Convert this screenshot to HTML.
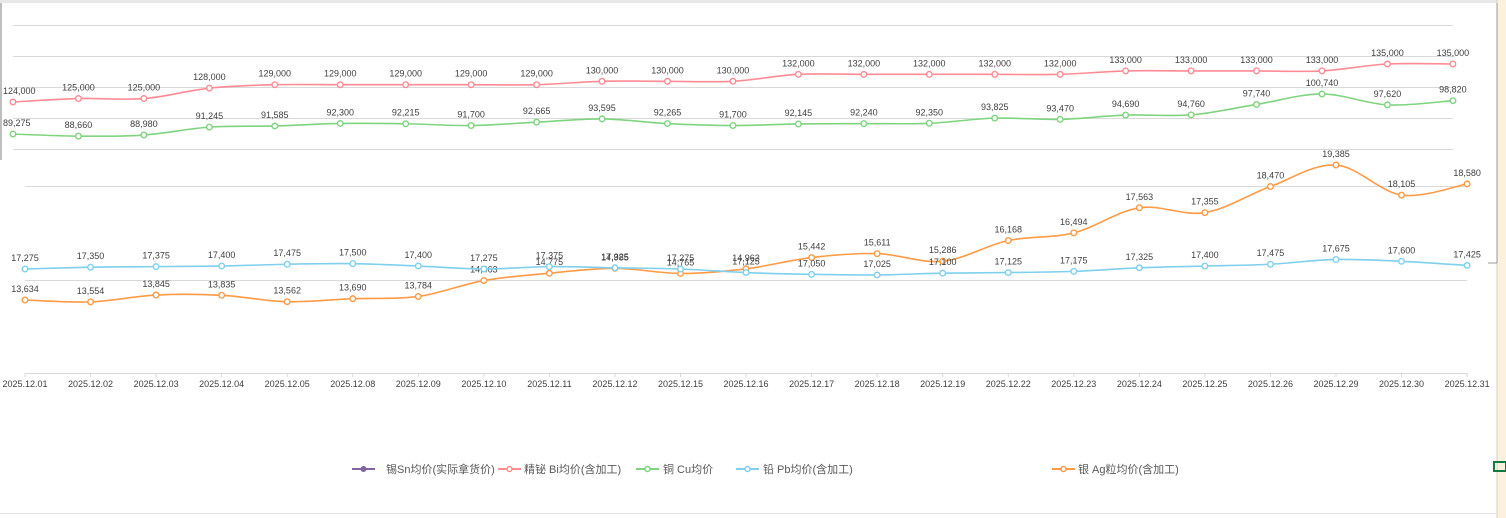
<!DOCTYPE html>
<html><head><meta charset="utf-8"><style>
body{margin:0;width:1506px;height:518px;overflow:hidden;background:#fff;font-family:"Liberation Sans","Noto Sans CJK SC",sans-serif}
svg{position:absolute;left:0;top:0}
</style></head><body>
<svg id="s" width="1506" height="518" xmlns="http://www.w3.org/2000/svg">
<rect x="0" y="0" width="1506" height="3" fill="#e8e8e8"/>
<rect x="1497" y="0" width="9" height="518" fill="#fbf1dc"/>
<line x1="1497" y1="0" x2="1497" y2="518" stroke="#d8d0c0"/>
<rect x="1494" y="462" width="12" height="9" fill="none" stroke="#107c41" stroke-width="2"/>
<line x1="1" y1="3" x2="1" y2="160" stroke="#aaa" stroke-width="1.5"/>
<line x1="1497" y1="3" x2="1497" y2="263" stroke="#999"/>
<line x1="1488" y1="263" x2="1497" y2="263" stroke="#999"/>
<line x1="0" y1="513.5" x2="1497" y2="513.5" stroke="#e6e6e6"/>
<g stroke="#d9d9d9" stroke-width="1">
<line x1="13" y1="25.5" x2="1453" y2="25.5"/><line x1="13" y1="56.5" x2="1453" y2="56.5"/>
<line x1="13" y1="87.5" x2="1453" y2="87.5"/><line x1="13" y1="118.5" x2="1453" y2="118.5"/>
<line x1="13" y1="149.5" x2="1453" y2="149.5"/>
<line x1="25" y1="186.5" x2="1467" y2="186.5"/><line x1="25" y1="280.5" x2="1467" y2="280.5"/>
<line x1="25" y1="373.5" x2="1467" y2="373.5"/>
</g>
<g id="g"></g>
<g font-size="11" fill="#595959">
<line x1="352" y1="469" x2="375" y2="469" stroke="#8064a2" stroke-width="2"/><circle cx="363.5" cy="469" r="3" fill="#8064a2"/>
<text x="386" y="473">锡Sn均价(实际拿货价)</text>
<line x1="498" y1="469" x2="521" y2="469" stroke="#ff8b94" stroke-width="2"/><circle cx="509.5" cy="469" r="2.5" fill="#fff" stroke="#ff8b94" stroke-width="1.5"/>
<text x="524" y="473">精铋 Bi均价(含加工)</text>
<line x1="636" y1="469" x2="659" y2="469" stroke="#7fd47f" stroke-width="2"/><circle cx="647.5" cy="469" r="2.5" fill="#fff" stroke="#7fd47f" stroke-width="1.5"/>
<text x="663" y="473">铜 Cu均价</text>
<line x1="736" y1="469" x2="759" y2="469" stroke="#7fd0ee" stroke-width="2"/><circle cx="747.5" cy="469" r="2.5" fill="#fff" stroke="#7fd0ee" stroke-width="1.5"/>
<text x="763" y="473">铅 Pb均价(含加工)</text>
<line x1="1052" y1="469" x2="1075" y2="469" stroke="#ff9a45" stroke-width="2"/><circle cx="1063.5" cy="469" r="2.5" fill="#fff" stroke="#ff9a45" stroke-width="1.5"/>
<text x="1078" y="473">银 Ag粒均价(含加工)</text>
</g>
</svg>
<script>
var NS="http://www.w3.org/2000/svg",g=document.getElementById("g");
function el(t,a,txt){var e=document.createElementNS(NS,t);for(var k in a)e.setAttribute(k,a[k]);if(txt)e.textContent=txt;g.appendChild(e);return e}
var dates=["01","02","03","04","05","08","09","10","11","12","15","16","17","18","19","22","23","24","25","26","29","30","31"];
var red=[124000,125000,125000,128000,129000,129000,129000,129000,129000,130000,130000,130000,132000,132000,132000,132000,132000,133000,133000,133000,133000,135000,135000];
var green=[89275,88660,88980,91245,91585,92300,92215,91700,92665,93595,92265,91700,92145,92240,92350,93825,93470,94690,94760,97740,100740,97620,98820];
var blue=[17275,17350,17375,17400,17475,17500,17400,17275,17375,17325,17275,17125,17050,17025,17100,17125,17175,17325,17400,17475,17675,17600,17425];
var orange=[13634,13554,13845,13835,13562,13690,13784,14463,14775,14985,14765,14963,15442,15611,15286,16168,16494,17563,17355,18470,19385,18105,18580];
function fmt(v){return v.toLocaleString("en-US")}
function series(d,x0,step,yf,col){
 var p=d.map(function(v,i){return [x0+i*step,yf(v)]});
 var s="M"+p[0][0]+","+p[0][1];
 for(var i=0;i<p.length-1;i++){var a=p[i-1]||p[i],b=p[i],c=p[i+1],e=p[i+2]||c,t=6;
  s+=" C"+(b[0]+(c[0]-a[0])/t)+","+(b[1]+(c[1]-a[1])/t)+" "+(c[0]-(e[0]-b[0])/t)+","+(c[1]-(e[1]-b[1])/t)+" "+c[0]+","+c[1];}
 el("path",{d:s,fill:"none",stroke:col,"stroke-width":1.6});
 p.forEach(function(q,i){el("circle",{cx:q[0],cy:q[1],r:2.8,fill:"#fff",stroke:col,"stroke-width":1.4});
  var lx=q[0],anc="middle";if(lx<20){lx=3;anc="start";}
  el("text",{x:lx,y:q[1]-8,"font-size":9,fill:"#404040","text-anchor":anc},fmt(d[i]));});
}
series(red,13,65.45,function(v){return 102-(v-124000)*0.003455},"#ff8b94");
series(green,13,65.45,function(v){return 134-(v-89275)*0.00349},"#7fd47f");
series(orange,25,65.55,function(v){return 300-(v-13634)*0.02347},"#ff9a45");
series(blue,25,65.55,function(v){return 269-(v-17275)*0.0238},"#7fd0ee");
dates.forEach(function(d,i){var x=25+i*65.55;el("line",{x1:x,y1:373,x2:x,y2:377,stroke:"#d9d9d9"});
 el("text",{x:x,y:387,"font-size":9,fill:"#404040","text-anchor":"middle"},"2025.12."+d);});
</script>
</body></html>
